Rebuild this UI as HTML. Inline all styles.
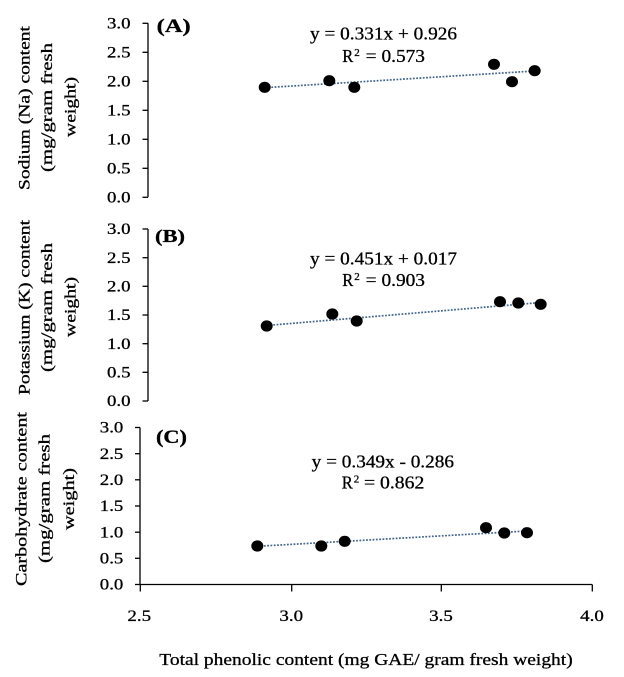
<!DOCTYPE html>
<html>
<head>
<meta charset="utf-8">
<style>
html,body{margin:0;padding:0;background:#fff;}
svg{display:block;}
text{font-family:"Liberation Serif","DejaVu Serif",serif;fill:#000;stroke:#000;stroke-width:0.3;}
</style>
</head>
<body>
<svg width="624" height="677" viewBox="0 0 624 677" xmlns="http://www.w3.org/2000/svg">
<rect width="624" height="677" fill="#fff"/>

<!-- ========== Panel A ========== -->
<g stroke="#000" stroke-width="1.3" fill="none">
  <line x1="148" y1="23.3" x2="148" y2="197.3"/>
  <line x1="142.5" y1="197.3" x2="148" y2="197.3"/>
  <line x1="142.5" y1="168.3" x2="148" y2="168.3"/>
  <line x1="142.5" y1="139.3" x2="148" y2="139.3"/>
  <line x1="142.5" y1="110.3" x2="148" y2="110.3"/>
  <line x1="142.5" y1="81.3" x2="148" y2="81.3"/>
  <line x1="142.5" y1="52.3" x2="148" y2="52.3"/>
  <line x1="142.5" y1="23.3" x2="148" y2="23.3"/>
</g>
<g font-size="16" text-anchor="end">
  <text x="130.5" y="202.5" textLength="23.5" lengthAdjust="spacingAndGlyphs">0.0</text>
  <text x="130.5" y="173.5" textLength="23.5" lengthAdjust="spacingAndGlyphs">0.5</text>
  <text x="130.5" y="144.5" textLength="23.5" lengthAdjust="spacingAndGlyphs">1.0</text>
  <text x="130.5" y="115.5" textLength="23.5" lengthAdjust="spacingAndGlyphs">1.5</text>
  <text x="130.5" y="86.5" textLength="23.5" lengthAdjust="spacingAndGlyphs">2.0</text>
  <text x="130.5" y="57.5" textLength="23.5" lengthAdjust="spacingAndGlyphs">2.5</text>
  <text x="130.5" y="28.5" textLength="23.5" lengthAdjust="spacingAndGlyphs">3.0</text>
</g>
<text x="156.7" y="32" font-size="19" font-weight="bold" textLength="34" lengthAdjust="spacingAndGlyphs">(A)</text>
<g font-size="16" text-anchor="middle">
  <text transform="translate(29.5,108) rotate(-90)" textLength="164" lengthAdjust="spacingAndGlyphs">Sodium (Na) content</text>
  <text transform="translate(52,107.5) rotate(-90)" textLength="129" lengthAdjust="spacingAndGlyphs">(mg/gram  fresh</text>
  <text transform="translate(75.5,107) rotate(-90)" textLength="60" lengthAdjust="spacingAndGlyphs">weight)</text>
</g>
<line x1="264.7" y1="87.7" x2="534.7" y2="71" stroke="#41658c" stroke-width="1.7" stroke-dasharray="1.8 1.5"/>
<g fill="#000">
  <ellipse cx="264.7" cy="87.3" rx="6" ry="5.6"/>
  <ellipse cx="329.3" cy="80.7" rx="6" ry="5.6"/>
  <ellipse cx="354.3" cy="87.3" rx="6" ry="5.6"/>
  <ellipse cx="494" cy="64.3" rx="6" ry="5.6"/>
  <ellipse cx="512" cy="81.7" rx="6" ry="5.6"/>
  <ellipse cx="534.7" cy="70.7" rx="6" ry="5.6"/>
</g>
<text x="310" y="39.3" font-size="18" textLength="147" lengthAdjust="spacingAndGlyphs">y = 0.331x + 0.926</text>
<text x="342.3" y="62" font-size="18" textLength="11" lengthAdjust="spacingAndGlyphs">R</text>
<text x="354.3" y="56" font-size="11">2</text>
<text x="365.7" y="62" font-size="18" textLength="59.3" lengthAdjust="spacingAndGlyphs">= 0.573</text>

<!-- ========== Panel B ========== -->
<g stroke="#000" stroke-width="1.3" fill="none">
  <line x1="148" y1="229" x2="148" y2="401"/>
  <line x1="142.5" y1="401" x2="148" y2="401"/>
  <line x1="142.5" y1="372.3" x2="148" y2="372.3"/>
  <line x1="142.5" y1="343.7" x2="148" y2="343.7"/>
  <line x1="142.5" y1="315" x2="148" y2="315"/>
  <line x1="142.5" y1="286.3" x2="148" y2="286.3"/>
  <line x1="142.5" y1="257.7" x2="148" y2="257.7"/>
  <line x1="142.5" y1="229" x2="148" y2="229"/>
</g>
<g font-size="16" text-anchor="end">
  <text x="130.5" y="406.2" textLength="23.5" lengthAdjust="spacingAndGlyphs">0.0</text>
  <text x="130.5" y="377.5" textLength="23.5" lengthAdjust="spacingAndGlyphs">0.5</text>
  <text x="130.5" y="348.9" textLength="23.5" lengthAdjust="spacingAndGlyphs">1.0</text>
  <text x="130.5" y="320.2" textLength="23.5" lengthAdjust="spacingAndGlyphs">1.5</text>
  <text x="130.5" y="291.5" textLength="23.5" lengthAdjust="spacingAndGlyphs">2.0</text>
  <text x="130.5" y="262.9" textLength="23.5" lengthAdjust="spacingAndGlyphs">2.5</text>
  <text x="130.5" y="234.2" textLength="23.5" lengthAdjust="spacingAndGlyphs">3.0</text>
</g>
<text x="155" y="242" font-size="18" font-weight="bold" textLength="30" lengthAdjust="spacingAndGlyphs">(B)</text>
<g font-size="16" text-anchor="middle">
  <text transform="translate(29.5,307.5) rotate(-90)" textLength="175" lengthAdjust="spacingAndGlyphs">Potassium (K) content</text>
  <text transform="translate(52,307.5) rotate(-90)" textLength="129" lengthAdjust="spacingAndGlyphs">(mg/gram  fresh</text>
  <text transform="translate(75.5,307) rotate(-90)" textLength="60" lengthAdjust="spacingAndGlyphs">weight)</text>
</g>
<line x1="266.7" y1="325.5" x2="540.7" y2="302.5" stroke="#41658c" stroke-width="1.7" stroke-dasharray="1.8 1.5"/>
<g fill="#000">
  <ellipse cx="266.7" cy="326" rx="6" ry="5.6"/>
  <ellipse cx="332.3" cy="314" rx="6" ry="5.6"/>
  <ellipse cx="356.7" cy="321" rx="6" ry="5.6"/>
  <ellipse cx="500" cy="301.7" rx="6" ry="5.6"/>
  <ellipse cx="518.3" cy="303" rx="6" ry="5.6"/>
  <ellipse cx="540.7" cy="304.3" rx="6" ry="5.6"/>
</g>
<text x="310" y="264.3" font-size="18" textLength="147" lengthAdjust="spacingAndGlyphs">y = 0.451x + 0.017</text>
<text x="342.3" y="286" font-size="18" textLength="11" lengthAdjust="spacingAndGlyphs">R</text>
<text x="354.3" y="280" font-size="11">2</text>
<text x="365.7" y="286" font-size="18" textLength="59.3" lengthAdjust="spacingAndGlyphs">= 0.903</text>

<!-- ========== Panel C ========== -->
<g stroke="#000" stroke-width="1.3" fill="none">
  <line x1="140" y1="427.5" x2="140" y2="584.5"/>
  <line x1="135" y1="584.5" x2="140" y2="584.5"/>
  <line x1="135" y1="558.3" x2="140" y2="558.3"/>
  <line x1="135" y1="532.2" x2="140" y2="532.2"/>
  <line x1="135" y1="506" x2="140" y2="506"/>
  <line x1="135" y1="479.8" x2="140" y2="479.8"/>
  <line x1="135" y1="453.7" x2="140" y2="453.7"/>
  <line x1="135" y1="427.5" x2="140" y2="427.5"/>
  <line x1="140" y1="584.5" x2="592.3" y2="584.5"/>
  <line x1="140.3" y1="584.5" x2="140.3" y2="591.5"/>
  <line x1="291.7" y1="584.5" x2="291.7" y2="591.5"/>
  <line x1="441.3" y1="584.5" x2="441.3" y2="591.5"/>
  <line x1="592.3" y1="584.5" x2="592.3" y2="591.5"/>
</g>
<g font-size="16" text-anchor="end">
  <text x="123.3" y="589.7" textLength="23.5" lengthAdjust="spacingAndGlyphs">0.0</text>
  <text x="123.3" y="563.5" textLength="23.5" lengthAdjust="spacingAndGlyphs">0.5</text>
  <text x="123.3" y="537.4" textLength="23.5" lengthAdjust="spacingAndGlyphs">1.0</text>
  <text x="123.3" y="511.2" textLength="23.5" lengthAdjust="spacingAndGlyphs">1.5</text>
  <text x="123.3" y="485" textLength="23.5" lengthAdjust="spacingAndGlyphs">2.0</text>
  <text x="123.3" y="458.9" textLength="23.5" lengthAdjust="spacingAndGlyphs">2.5</text>
  <text x="123.3" y="432.7" textLength="23.5" lengthAdjust="spacingAndGlyphs">3.0</text>
</g>
<g font-size="16" text-anchor="middle">
  <text x="139.2" y="621" textLength="23.7" lengthAdjust="spacingAndGlyphs">2.5</text>
  <text x="291.2" y="621" textLength="23.7" lengthAdjust="spacingAndGlyphs">3.0</text>
  <text x="441" y="621" textLength="23.7" lengthAdjust="spacingAndGlyphs">3.5</text>
  <text x="592" y="621" textLength="23.7" lengthAdjust="spacingAndGlyphs">4.0</text>
</g>
<text x="156" y="443" font-size="19" font-weight="bold" textLength="31" lengthAdjust="spacingAndGlyphs">(C)</text>
<g font-size="16" text-anchor="middle">
  <text transform="translate(26.5,499) rotate(-90)" textLength="174" lengthAdjust="spacingAndGlyphs">Carbohydrate content</text>
  <text transform="translate(49.5,498.5) rotate(-90)" textLength="129" lengthAdjust="spacingAndGlyphs">(mg/gram  fresh</text>
  <text transform="translate(74,499) rotate(-90)" textLength="62" lengthAdjust="spacingAndGlyphs">weight)</text>
</g>
<line x1="257.3" y1="546.3" x2="527" y2="531" stroke="#41658c" stroke-width="1.7" stroke-dasharray="1.8 1.5"/>
<g fill="#000">
  <ellipse cx="257.3" cy="546" rx="6" ry="5.6"/>
  <ellipse cx="321.3" cy="546" rx="6" ry="5.6"/>
  <ellipse cx="344.7" cy="541.3" rx="6" ry="5.6"/>
  <ellipse cx="486" cy="527.7" rx="6" ry="5.6"/>
  <ellipse cx="504.3" cy="533" rx="6" ry="5.6"/>
  <ellipse cx="527" cy="532.7" rx="6" ry="5.6"/>
</g>
<text x="311.7" y="467.3" font-size="18" textLength="142.3" lengthAdjust="spacingAndGlyphs">y = 0.349x - 0.286</text>
<text x="341.7" y="488.3" font-size="18" textLength="11" lengthAdjust="spacingAndGlyphs">R</text>
<text x="353.7" y="482.3" font-size="11">2</text>
<text x="364" y="488.3" font-size="18" textLength="60.3" lengthAdjust="spacingAndGlyphs">= 0.862</text>

<!-- X axis title -->
<text x="159.3" y="665" font-size="17" textLength="413.4" lengthAdjust="spacingAndGlyphs">Total phenolic content (mg GAE/ gram fresh weight)</text>
</svg>
</body>
</html>
